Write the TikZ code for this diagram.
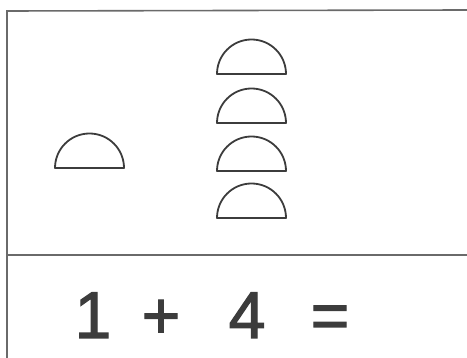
\documentclass[tikz,border=0pt]{standalone}
\usepackage{fontspec}
\setmainfont{Liberation Sans}
\newfontfamily\handfont[FakeBold=1.8]{Liberation Sans}
\definecolor{ink}{HTML}{3C3C3C}
\definecolor{rule}{HTML}{6A6A6A}
\begin{document}
\begin{tikzpicture}[x=1pt,y=-1pt,
  frameline/.style={draw=rule,line width=1.6pt},
  dome/.style={draw=ink,line width=1.8pt,line join=round},
  glyph/.style={text=ink,inner sep=0pt,anchor=base,font=\handfont\fontsize{66}{66}\selectfont}]
\useasboundingbox (0,0) rectangle (467,358);
% frame
\coordinate (tl) at (7,11);
\coordinate (tr) at (467,10);
\coordinate (bl) at (7,358);
\coordinate (ml) at (7,255);
\coordinate (mr) at (467,255);
\draw[frameline] (tr) -- (tl) -- (bl);
\draw[frameline] (ml) -- (mr);
% single dome
\draw[dome] (55,168) arc[start angle=180,end angle=360,radius=34.5] -- cycle;
% stack of four domes
\foreach \b in {74,123,171,218}{
  \draw[dome] (217,\b) arc[start angle=180,end angle=360,radius=34.5] -- cycle;
}
% equation
\node[glyph] (one) at (93,338) {1};
\node[glyph] (plus) at (161,338) {+};
\node[glyph] (four) at (247,338) {4};
\node[glyph] (eq) at (330,338) {=};
\end{tikzpicture}
\end{document}
